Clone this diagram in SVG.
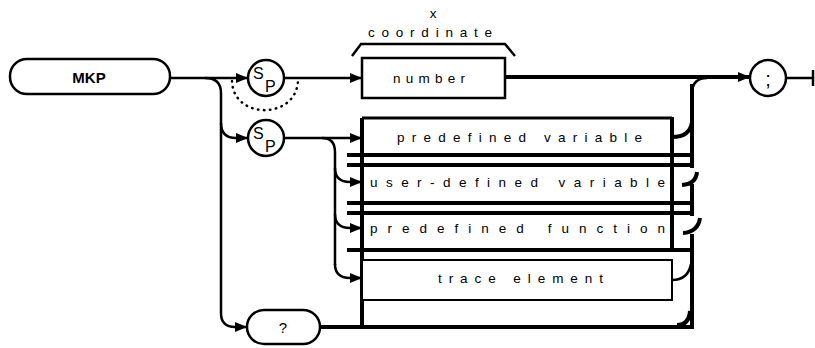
<svg xmlns="http://www.w3.org/2000/svg" width="815" height="348" viewBox="0 0 815 348">
<style>
.ln{fill:none;stroke:#000;stroke-width:2.5}
.th{fill:none;stroke:#000;stroke-width:4}
.md{fill:none;stroke:#000;stroke-width:3}
.bx{fill:#fff;stroke:#000;stroke-width:2.5}
.t{font-family:"Liberation Sans",Arial,sans-serif;font-size:13.5px;fill:#000}
.c{text-anchor:middle;dominant-baseline:central}
.sp{font-family:"Liberation Sans",Arial,sans-serif;font-size:16px;fill:#000}
</style>
<defs>
<marker id="ar" viewBox="0 0 12 10" refX="12" refY="5" markerWidth="12" markerHeight="10" markerUnits="userSpaceOnUse" orient="auto">
<path d="M0 0 L12 5 L0 10 Z" fill="#000"/>
</marker>
</defs>
<g id="connectors">
<path class="ln" d="M170 78 L248 78" marker-end="url(#ar)"/>
<path class="ln" d="M205 78 Q221 78 221 93 L221 313 Q221 327 235 327 L247 327" marker-end="url(#ar)"/>
<path class="ln" d="M221 123 Q221 138 236 138 L248 138" marker-end="url(#ar)"/>
<path fill="none" stroke="#000" stroke-width="2.5" stroke-linecap="round" stroke-dasharray="0.5 5.5" d="M232 81 C233 120 297 120 298 80"/>
<path class="ln" d="M284 78 L362 78" marker-end="url(#ar)"/>
<path class="th" d="M505 77 L750 77" marker-end="url(#ar)"/>
<path class="ln" d="M786 78 L813 78 M813 70 L813 86"/>
<path class="ln" d="M284 138 L362 138" marker-end="url(#ar)"/>
<path class="ln" d="M322 138 Q335 138 335 152 L335 265"/>
<path class="ln" d="M335 168 Q335 182 350 182 L362 182" marker-end="url(#ar)"/>
<path class="ln" d="M335 214 Q335 228 350 228 L362 228" marker-end="url(#ar)"/>
<path class="ln" d="M335 264 Q335 278 350 278 L362 278" marker-end="url(#ar)"/>
<path class="th" d="M320 327 L692 327"/>
<path class="th" d="M347 155 L693 155 M347 165 L693 165 M347 203 L693 203 M347 213 L693 213 M347 250 L692 250"/>
<path class="th" d="M362 118 L362 327"/>
<path class="th" d="M692 84 L692 168 M692 184 L692 216 M692 234 L692 329"/>
<path class="ln" d="M692 92 Q693 78 707 78"/>
<path class="th" d="M697 172 Q696 184 682 185"/>
<path class="th" d="M700 218 Q698 232 683 233"/>
<path class="th" d="M690 311 Q689 325 677 325"/>
<path class="ln" d="M352 56 L361 44 L505 44 L515 56"/>
</g>
<g id="mkp">
<rect class="bx" x="10" y="59" width="160" height="35" rx="17"/>
<text class="t c" x="89" y="77" style="font-weight:bold;font-size:15px">MKP</text>
</g>
<g id="sp1">
<circle class="bx" cx="266" cy="78" r="18"/>
<text class="sp" x="253" y="79">S</text>
<text class="sp" x="265" y="92">P</text>
</g>
<g id="sp2">
<circle class="bx" cx="266" cy="138" r="18"/>
<text class="sp" x="253" y="139">S</text>
<text class="sp" x="265" y="152">P</text>
</g>
<g id="number">
<rect class="bx" x="362" y="58" width="143" height="40"/>
<text class="t c" x="429" y="78" textLength="72" lengthAdjust="spacing">number</text>
<text class="t c" x="430" y="32" textLength="124" lengthAdjust="spacing">coordinate</text>
<text class="t c" x="433" y="13">x</text>
</g>
<g id="semicolon">
<circle class="bx" cx="768" cy="78" r="18"/>
<text class="t c" x="768" y="79" style="font-size:20px">;</text>
</g>
<g id="predefined-variable">
<path class="md" d="M362 118 L672 118"/>
<path class="th" d="M672 117 L672 250"/>
<path class="th" d="M672 137 Q690 137 692 122"/>
<text class="t" x="397" y="142" textLength="245" lengthAdjust="spacing">predefined variable</text>
</g>
<g id="user-defined-variable">
<text class="t" x="370" y="187" textLength="295" lengthAdjust="spacing">user-defined variable</text>
</g>
<g id="predefined-function">
<text class="t" x="370" y="233" textLength="295" lengthAdjust="spacing">predefined function</text>
</g>
<g id="trace-element">
<rect fill="#fff" stroke="#000" stroke-width="2" x="362" y="260" width="310" height="40"/>
<path class="ln" d="M672 280 Q688 280 691 264"/>
<text class="t" x="438" y="283" textLength="165" lengthAdjust="spacing">trace element</text>
</g>
<g id="query">
<rect class="bx" x="247" y="310" width="73" height="34" rx="17"/>
<text class="t c" x="283" y="327" style="font-size:15px">?</text>
</g>
</svg>
